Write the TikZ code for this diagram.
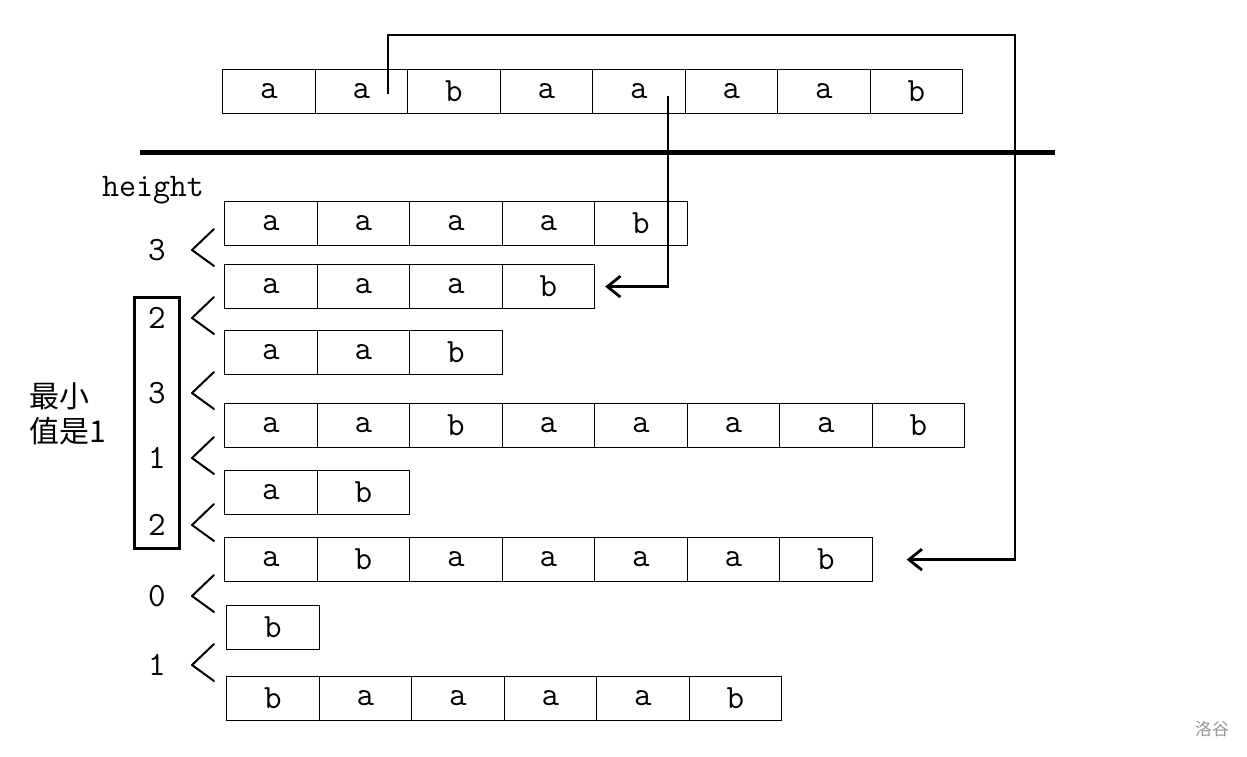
\documentclass[tikz,border=0pt]{standalone}
\usepackage{fontspec}
\newfontfamily\cjk{Noto Sans CJK SC}
\usetikzlibrary{arrows.meta}
\definecolor{wm}{RGB}{150,150,150}
\tikzset{
  cell/.style={draw, line width=1.2pt, minimum width=92.5pt, minimum height=44pt, inner sep=0pt, anchor=north west, font=\ttfamily\fontsize{34}{36}\selectfont},
  conn/.style={line width=2.8pt, line join=miter},
  chev/.style={line width=2pt, line cap=round, line join=round},
  num/.style={font=\ttfamily\fontsize{34}{36}\selectfont, inner sep=0pt},
  lbl/.style={font=\ttfamily\fontsize{33}{36}\selectfont, inner sep=0pt},
  tip/.style={-{Straight Barb[length=13pt,width=21pt,line width=2.8pt]}}
}
\begin{document}
\begin{tikzpicture}[x=1pt,y=-1pt]
\useasboundingbox (0,0) rectangle (1247,756);
% top row
\foreach \ch [count=\i] in {a,a,b,a,a,a,a,b}
  \node[cell] (r0c\i) at ({222+(\i-1)*92.5},69) {\ch};
% rows
\foreach \ch [count=\i] in {a,a,a,a,b}
  \node[cell] (r1c\i) at ({224+(\i-1)*92.5},201) {\ch};
\foreach \ch [count=\i] in {a,a,a,b}
  \node[cell] (r2c\i) at ({224+(\i-1)*92.5},264) {\ch};
\foreach \ch [count=\i] in {a,a,b}
  \node[cell] (r3c\i) at ({224+(\i-1)*92.5},330) {\ch};
\foreach \ch [count=\i] in {a,a,b,a,a,a,a,b}
  \node[cell] (r4c\i) at ({224+(\i-1)*92.5},403) {\ch};
\foreach \ch [count=\i] in {a,b}
  \node[cell] (r5c\i) at ({224+(\i-1)*92.5},470) {\ch};
\foreach \ch [count=\i] in {a,b,a,a,a,a,b}
  \node[cell] (r6c\i) at ({224+(\i-1)*92.5},537) {\ch};
\foreach \ch [count=\i] in {b}
  \node[cell] (r7c\i) at ({226+(\i-1)*92.5},605) {\ch};
\foreach \ch [count=\i] in {b,a,a,a,a,b}
  \node[cell] (r8c\i) at ({226+(\i-1)*92.5},676) {\ch};
% separator
\coordinate (sepL) at (140,152);
\coordinate (sepR) at (1055,152);
\draw[line width=5pt] (sepL) -- (sepR);
% connectors
\coordinate (s1) at (388,94);
\coordinate (s2) at (668,96);
\draw[conn,tip] (s1) -- (388,35) -- (1015,35) |- ([xshift=34pt]r6c7.east);
\draw[conn,tip] (s2) |- ([xshift=10pt]r2c4.east);
% height label
\node[lbl] (hgt) at (153,190) {height};
% chevrons and numbers
\foreach \y/\n [count=\k] in {250/3,318/2,393/3,458/1,525/2,596/0,665/1}{
  \draw[chev] (214,{\y-21}) -- (192,\y) coordinate (ch\k) -- (214,{\y+16});
  \node[num] (n\k) at (157,\y) {\n};
}
% box around numbers
\node[draw, line width=3pt, minimum width=45pt, minimum height=251pt, inner sep=0pt, anchor=north west] (box) at (133,296) {};
% chinese label
\node[font=\cjk\fontsize{30}{35}\selectfont, align=left, anchor=west, inner sep=0pt] (minlbl) at (29,414) {最小\\值是1};
% watermark
\node[font=\cjk\fontsize{17}{18}\selectfont, text=wm, inner sep=0pt] (wmk) at (1212,729) {洛谷};
\end{tikzpicture}
\end{document}
